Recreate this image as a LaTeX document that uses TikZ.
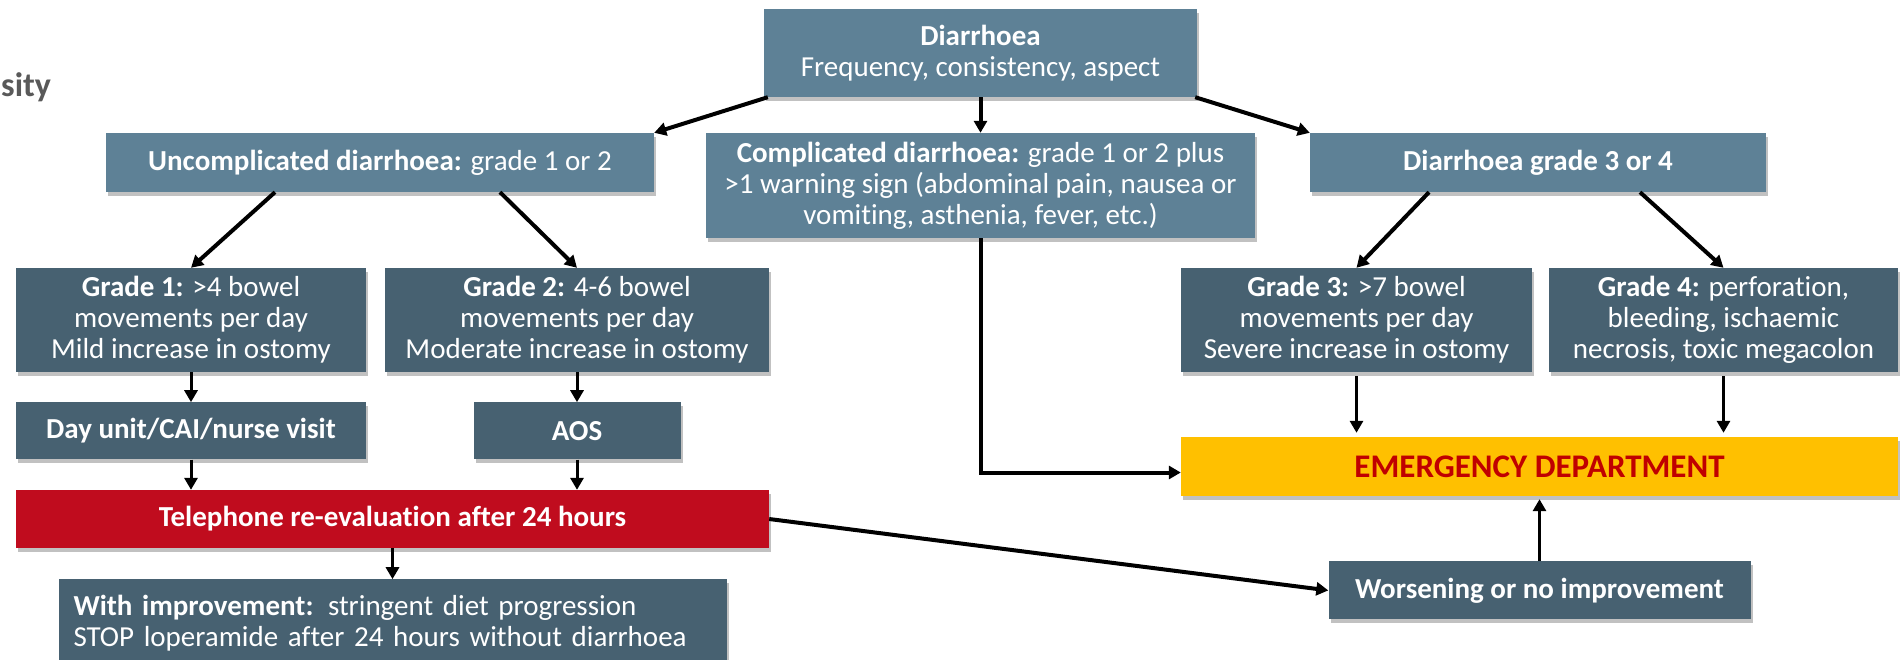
\documentclass[tikz,border=0pt]{standalone}
\usepackage{fontspec}
\setmainfont{Carlito}[Ligatures=NoCommon]
\usetikzlibrary{arrows.meta,positioning,shadows}
\definecolor{diagblue}{RGB}{94,129,150}
\definecolor{diagslate}{RGB}{71,97,113}
\definecolor{diagred}{RGB}{192,12,30}
\definecolor{diagamber}{RGB}{255,192,0}
\definecolor{diagdark}{RGB}{192,0,0}
\definecolor{diaggray}{RGB}{89,89,89}
\tikzset{
  >={Triangle[length=12pt,width=13pt]},
  topbox/.style={
    rectangle, fill=diagblue, text=white,
    align=center, inner sep=4pt, minimum height=59pt,
    font=\fontsize{29}{31}\selectfont,
    drop shadow={shadow xshift=2pt, shadow yshift=-4pt, opacity=0.35, fill=black!70}
  },
  subbox/.style={topbox, fill=diagslate},
  arrow/.style={->, line width=4pt, draw=black},
  shortarrow/.style={->, line width=3pt, draw=black},
}

\begin{document}
\begin{tikzpicture}[x=1pt, y=-1pt]
\useasboundingbox (0,0) rectangle (1901,659);
% --- Title fragment ---
\node[anchor=base west, inner sep=0pt, text=diaggray, font=\fontsize{34}{38}\selectfont\bfseries] (title) at (1,96) {sity};
% --- Nodes ---
\node[topbox, minimum width=433pt, minimum height=88pt] (diar) at (980.5,53) {
  \textbf{Diarrhoea}\\Frequency, consistency, aspect};
\node[topbox, minimum width=548pt] (uncomp) at (380,162.5) {
  \textbf{Uncomplicated diarrhoea:} grade 1 or 2};
\node[topbox, minimum width=549pt, minimum height=105pt] (comp) at (980.5,185.5) {
  \textbf{Complicated diarrhoea:} grade 1 or 2 plus\\
  >1 warning sign (abdominal pain, nausea or\\
  vomiting, asthenia, fever, etc.)};
\node[topbox, minimum width=456pt] (grd34) at (1538,162.5) {
  \textbf{Diarrhoea grade 3 or 4}};
\node[subbox, minimum width=350pt, minimum height=104pt] (grd1) at (191,320) {
  \textbf{Grade 1:} >4 bowel\\movements per day\\Mild increase in ostomy};
\node[subbox, minimum width=384pt, minimum height=104pt] (grd2) at (577,320) {
  \textbf{Grade 2:} 4-6 bowel\\movements per day\\Moderate increase in ostomy};
\node[subbox, minimum width=350pt, minimum height=57pt, below=30pt of grd1] (dayunit) {
  \textbf{Day unit/CAI/nurse visit}};
\node[subbox, minimum width=207pt, minimum height=57pt, below=30pt of grd2] (aos) {
  \textbf{AOS}};
\node[topbox, fill=diagred, minimum width=753pt, minimum height=58pt] (phone) at (392.5,519) {
  \textbf{Telephone re-evaluation after 24 hours}};
\node[subbox, minimum width=668pt, minimum height=88pt, text width=638pt,
      align=left, inner xsep=15pt, below=31pt of phone] (improve) {
  \textbf{With improvement:} stringent diet progression\\
  STOP loperamide after 24 hours without diarrhoea};
\node[subbox, minimum width=351pt, minimum height=104pt] (grd3) at (1356.5,320) {
  \textbf{Grade 3:} >7 bowel\\movements per day\\Severe increase in ostomy};
\node[subbox, minimum width=349pt, minimum height=104pt] (grd4) at (1723.5,320) {
  \textbf{Grade 4:} perforation,\\bleeding, ischaemic\\necrosis, toxic megacolon};
\node[topbox, fill=diagamber, text=diagdark, minimum width=717pt,
      font=\fontsize{33}{36}\selectfont] (emerg) at (1539.5,466.5) {
  \textbf{EMERGENCY DEPARTMENT}};
\node[subbox, minimum width=422pt, minimum height=58pt, below=65pt of emerg] (worse) {
  \textbf{Worsening or no improvement}};
% --- Arrows ---
\draw[arrow] ([xshift=4pt]diar.south west) -- (uncomp.north east);
\draw[arrow] (diar.south) -- (comp.north);
\draw[arrow] ([xshift=-2pt]diar.south east) -- (grd34.north west);
\draw[arrow] ([xshift=-105pt]uncomp.south) -- (grd1.north);
\draw[arrow] ([xshift=120pt]uncomp.south) -- (grd2.north);
\draw[arrow] ([xshift=-109pt]grd34.south) -- (grd3.north);
\draw[arrow] ([xshift=102pt]grd34.south) -- (grd4.north);
\draw[shortarrow] (grd1) -- (dayunit);
\draw[shortarrow] (grd2) -- (aos);
\draw[shortarrow] (dayunit.south) -- (dayunit.south |- phone.north);
\draw[shortarrow] (aos.south) -- (aos.south |- phone.north);
\draw[shortarrow] (phone.south) -- (improve.north);
\draw[arrow] (phone.east) -- (worse.west);                    % to worsening
\draw[arrow] (comp.south) |- ([yshift=-6pt]emerg.west);        % down, then right
\draw[shortarrow, shorten <=4pt, shorten >=4pt] (grd3.south) -- (grd3.south |- emerg.north);
\draw[shortarrow, shorten <=4pt, shorten >=4pt] (grd4.south) -- (grd4.south |- emerg.north);
\draw[shortarrow, shorten >=3pt] (worse.north) -- (worse.north |- emerg.south);
\end{tikzpicture}
\end{document}
